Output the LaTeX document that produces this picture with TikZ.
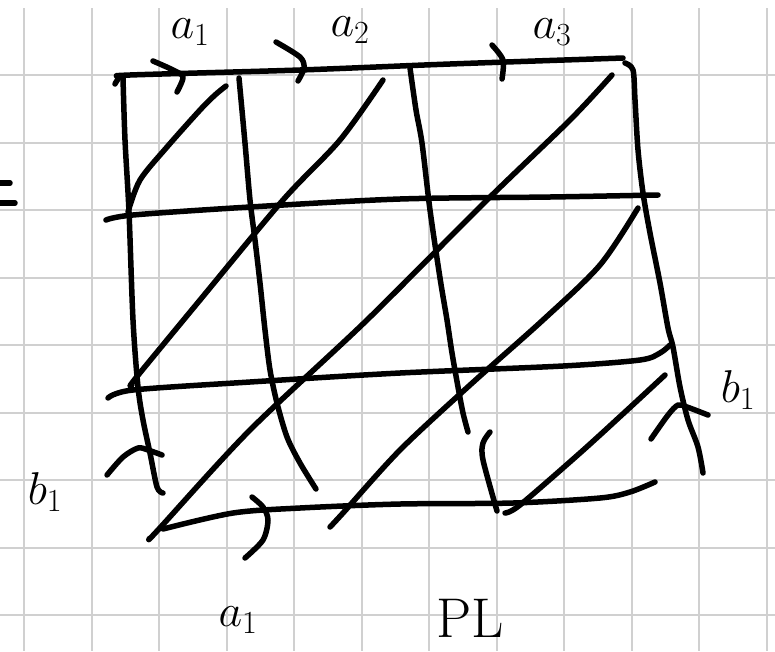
\documentclass[tikz,border=0pt]{standalone}
\usepackage{fix-cm}
\usepackage{tikz}
\usetikzlibrary{positioning}
\definecolor{inkblack}{HTML}{000000}
\definecolor{gridgray}{HTML}{D0D0D0}
\definecolor{paperwhite}{HTML}{FFFFFF}
\tikzstyle{ink} = [line width=5.5pt, line cap=round, line join=round, color=inkblack]
\tikzstyle{gridline} = [line width=2pt, color=gridgray]
\tikzstyle{hand} = [text=inkblack, font=\fontsize{46}{50}\selectfont, inner sep=0pt]

\begin{document}
\begin{tikzpicture}[x=1pt, y=-1pt]
    \useasboundingbox (0,0) rectangle (775,651);
    \fill[paperwhite] (0,0) rectangle (775,651);
    \foreach \gx in {24,91.5,...,770} \draw[gridline] (\gx,8) -- (\gx,651);
    \foreach \gy in {75,142.5,...,651} \draw[gridline] (0,\gy) -- (775,\gy);

    \draw[ink] (0,183) -- (10,183);
    \draw[ink] (0,203) -- (15,203);

    \draw[ink] plot[smooth] coordinates {(115,84) (120,77) (130,75) (300,70) (450,64) (623,58)};
    \draw[ink] plot[smooth] coordinates {(123,78) (125,140) (129,212) (133,320) (138,387) (143,420) (150,453) (157,487) (163,493)};
    \draw[ink] plot[smooth] coordinates {(239,78) (245,143) (250,200) (255,240) (260,283) (265,330) (270,370) (277,403) (287,437) (300,463) (316,489)};
    \draw[ink] plot[smooth] coordinates {(410,68) (416,110) (422,143) (430,210) (440,278) (447,320) (452,353) (458,387) (463,413) (468,432)};
    \draw[ink] plot[smooth] coordinates {(625,63) (633,70) (635,100) (638,150) (643,193) (650,233) (660,283) (668,328) (673,347) (680,387) (688,420) (698,447) (703,473)};

    \draw[ink] plot[smooth] coordinates {(106,220) (133,215) (250,207) (400,199) (550,197) (658,195)};
    \draw[ink] plot[smooth] coordinates {(108,398) (133,390) (250,382) (400,373) (563,366) (640,360) (660,353) (670,345)};
    \draw[ink] plot[smooth] coordinates {(163,529) (233,513) (300,508) (400,504) (513,503) (600,498) (630,492) (655,482)};

    \draw[ink] plot[smooth] coordinates {(128,212) (140,180) (167,147) (200,110) (215,95) (226,86)};
    \draw[ink] plot[smooth] coordinates {(132,385) (135,379) (200,300) (283,200) (340,140) (383,80)};
    \draw[ink] plot[smooth] coordinates {(150,538) (158,530) (250,430) (367,320) (487,200) (570,120) (612,75)};
    \draw[ink] plot[smooth] coordinates {(330,527) (343,513) (400,450) (470,385) (543,320) (600,265) (638,208)};
    \draw[ink] plot[smooth] coordinates {(505,513) (520,505) (580,453) (625,412) (665,375)};

    \draw[ink] plot[smooth] coordinates {(153,61) (173,70) (183,77) (177,92)};
    \draw[ink] plot[smooth] coordinates {(276,42) (300,57) (304,68) (298,81)};
    \draw[ink] plot[smooth] coordinates {(492,45) (503,60) (502,79)};
    \draw[ink] plot[smooth] coordinates {(252,497) (263,507) (268,520) (263,540) (245,558)};
    \draw[ink] plot[smooth] coordinates {(107,475) (123,457) (138,448) (148,450) (162,455)};
    \draw[ink] plot[smooth] coordinates {(651,439) (668,415) (678,405) (687,407) (708,415)};
    \draw[ink] plot[smooth] coordinates {(490,432) (483,443) (483,460) (497,511)};

    \node[hand] (atop) at (190,32) {$a_1$};
    \node[hand] (btop) at (350,30) {$a_2$};
    \node[hand] (ctop) at (552,32) {$a_3$};
    \node[hand] (bleft) at (45,492) {$b_1$};
    \node[hand] (bright) at (738,390) {$b_1$};
    \node[hand] (abottom) at (238,620) {$a_1$};
    \node[hand, font=\fontsize{56}{60}\selectfont] (plabel) at (470,618) {PL};
\end{tikzpicture}
\end{document}
